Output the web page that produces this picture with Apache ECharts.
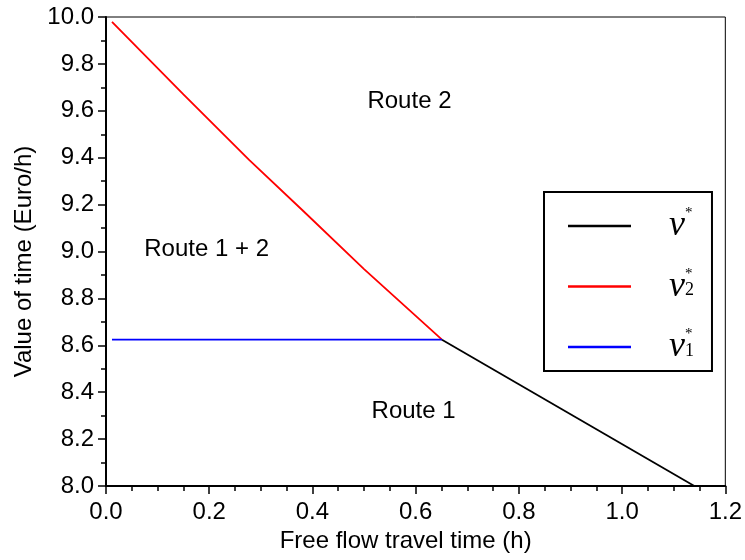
<!DOCTYPE html>
<html><head><meta charset="utf-8">
<script src="https://cdn.jsdelivr.net/npm/echarts@6/dist/echarts.min.js"></script>
<style>html,body{margin:0;padding:0;background:#fff}#c{width:745px;height:560px}</style>
</head><body><div id="c"></div>
<script>
// ---- data ----
const xName = 'Free flow travel time (h)';
const yName = 'Value of time (Euro/h)';
const seriesNames = ['v*', 'v2*', 'v1*'];
const seriesColors = ['#000000', '#ff0000', '#0000ff'];
// v* (black)
const blackX = [0.651, 1.14];
const blackY = [8.624, 8.0];
// v2* (red)
const redX = [0.0116, 0.15, 0.2778, 0.3807, 0.5, 0.651];
const redY = [9.979, 9.67, 9.390, 9.176, 8.925, 8.624];
// v1* (blue)
const blueX = [0.0116, 0.651];
const blueY = [8.624, 8.624];
// region labels
const regionText = ['Route 2', 'Route 1 + 2', 'Route 1'];
const regionX = [0.588, 0.195, 0.596];
const regionY = [9.642, 9.010, 8.318];

const zip = (xs, ys) => xs.map((x, i) => [x, ys[i]]);
const FONT = 'Liberation Sans, Arial, Helvetica, sans-serif';
const SERIF = 'Liberation Serif, Times New Roman, serif';

const legendText = {
  'v*': '{v|ν}{a|*}',
  'v2*': '{v|ν}{a|*}{s|2}',
  'v1*': '{v|ν}{a|*}{s|1}'
};

const chart = echarts.init(document.getElementById('c'), null, {renderer: 'canvas'});
chart.setOption({
  animation: false,
  backgroundColor: '#fff',
  grid: {left: 106, right: 17, top: 17, bottom: 74, show: true, borderColor: '#000', borderWidth: 1, backgroundColor: 'transparent'},
  xAxis: {
    type: 'value', min: 0, max: 1.2, interval: 0.2,
    name: xName, nameLocation: 'middle', nameGap: 43,
    nameTextStyle: {fontFamily: FONT, fontSize: 24, color: '#000', padding: [0, 20, 0, 0]},
    axisLine: {show: true, onZero: false, lineStyle: {color: '#000', width: 2}},
    axisTick: {show: true, inside: false, length: 8, lineStyle: {color: '#000', width: 1.5}},
    minorTick: {show: true, splitNumber: 4, length: 5, lineStyle: {color: '#000', width: 1.5}},
    axisLabel: {fontFamily: FONT, fontSize: 24, color: '#000', margin: 14, formatter: v => v.toFixed(1)},
    splitLine: {show: false}
  },
  yAxis: {
    type: 'value', min: 8, max: 10, interval: 0.2,
    name: yName, nameLocation: 'middle', nameGap: 68,
    nameTextStyle: {fontFamily: FONT, fontSize: 24, color: '#000', padding: [0, 20, 0, 0]},
    axisLine: {show: true, onZero: false, lineStyle: {color: '#000', width: 2}},
    axisTick: {show: true, inside: false, length: 8, lineStyle: {color: '#000', width: 1.5}},
    minorTick: {show: true, splitNumber: 2, length: 5, lineStyle: {color: '#000', width: 1.5}},
    axisLabel: {fontFamily: FONT, fontSize: 24, color: '#000', margin: 12, formatter: v => v.toFixed(1)},
    splitLine: {show: false}
  },
  legend: {
    data: seriesNames,
    orient: 'vertical',
    left: 544, top: 192,
    padding: [14, 18, 6, 24],
    itemGap: 22.5,
    itemWidth: 63, itemHeight: 2.5,
    icon: 'rect',
    borderColor: '#000', borderWidth: 2,
    backgroundColor: '#fff',
    formatter: n => legendText[n],
    textStyle: {
      color: '#000',
      rich: {
        v: {fontFamily: SERIF, fontStyle: 'italic', fontSize: 36, lineHeight: 40, padding: [0, 0, 0, 33], color: '#000'},
        a: {fontFamily: SERIF, fontSize: 15, width: 0, verticalAlign: 'top', lineHeight: 12, color: '#000'},
        s: {fontFamily: SERIF, fontSize: 18, lineHeight: 18, verticalAlign: 'middle', padding: [8, 0, 0, 0], color: '#000'}
      }
    }
  },
  series: [
    {name: seriesNames[0], type: 'line', data: zip(blackX, blackY), showSymbol: false, symbol: 'none', color: seriesColors[0], lineStyle: {color: seriesColors[0], width: 1.8}, z: 3},
    {name: seriesNames[1], type: 'line', data: zip(redX, redY), showSymbol: false, symbol: 'none', color: seriesColors[1], lineStyle: {color: seriesColors[1], width: 1.8}, z: 2},
    {name: seriesNames[2], type: 'line', data: zip(blueX, blueY), showSymbol: false, symbol: 'none', color: seriesColors[2], lineStyle: {color: seriesColors[2], width: 1.8}, z: 2},
    {
      name: 'regions', type: 'scatter', silent: true,
      data: regionX.map((x, i) => [x, regionY[i], regionText[i]]),
      symbolSize: 0, itemStyle: {color: '#000', opacity: 1},
      label: {show: true, position: 'inside', formatter: p => p.value[2], fontFamily: FONT, fontSize: 24, color: '#000', opacity: 1, textBorderWidth: 0},
      emphasis: {disabled: true}
    }
  ]
});
</script>
</body></html>
